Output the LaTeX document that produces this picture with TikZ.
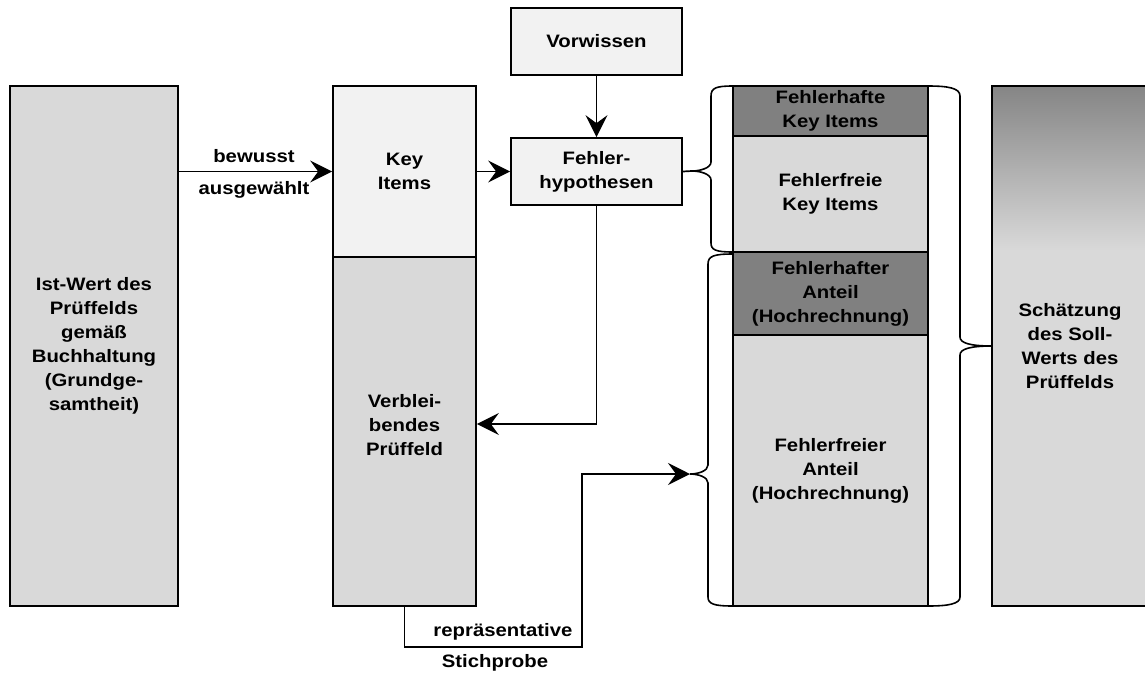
\documentclass[tikz,border=0pt]{standalone}
\usepackage{fontspec}
\setmainfont{Liberation Sans}[FakeStretch=1.13]
\usetikzlibrary{arrows.meta}
\definecolor{paleg}{HTML}{F2F2F2}
\definecolor{lightg}{HTML}{D9D9D9}
\definecolor{darkg}{HTML}{808080}
\definecolor{shadetop}{HTML}{858585}
\tikzset{
  box/.style={draw=black, line width=1.7pt, align=center, inner sep=0pt,
    font=\bfseries\fontsize{18}{24}\selectfont},
  lbl/.style={inner sep=0pt, font=\bfseries\fontsize{18}{24}\selectfont},
  conn/.style={line width=1.7pt},
  arr/.style={conn, -{Stealth[length=22pt,width=22pt,inset=8pt]}},
  brace/.style={line width=1.6pt},
}
\begin{document}
\begin{tikzpicture}[x=1pt,y=-1pt]
\useasboundingbox (0,0) rectangle (1145,675);
\clip (0,0) rectangle (1145,675);

% Ist-Wert column
\node[box, fill=lightg, minimum width=168pt, minimum height=520pt] (ist) at (94,346)
  {Ist-Wert des\\Prüffelds\\gemäß\\Buchhaltung\\(Grundge-\\samtheit)};

% split column: key items and remaining field
\node[box, fill=paleg, minimum width=143pt, minimum height=171pt] (key) at (404.5,171.5)
  {Key\\Items};
\node[box, fill=lightg, minimum width=143pt, minimum height=349pt] (verb) at (404.5,431.5)
  {Verblei-\\bendes\\Prüffeld\\[-10pt]};

% hypotheses
\node[box, fill=paleg, minimum width=171pt, minimum height=67pt] (vw) at (596.5,41.5)
  {Vorwissen};
\node[box, fill=paleg, minimum width=171pt, minimum height=67pt] (fh) at (596.5,171.5)
  {Fehler-\\hypothesen};

% result column
\node[box, fill=darkg, minimum width=195pt, minimum height=50pt] (fk1) at (830.5,111)
  {Fehlerhafte\\Key Items};
\node[box, fill=lightg, minimum width=195pt, minimum height=116pt] (fk2) at (830.5,194)
  {Fehlerfreie\\Key Items};
\node[box, fill=darkg, minimum width=195pt, minimum height=83pt] (fa1) at (830.5,293.5)
  {Fehlerhafter\\Anteil\\(Hochrechnung)};
\node[box, fill=lightg, minimum width=195pt, minimum height=271pt] (fa2) at (830.5,470.5)
  {Fehlerfreier\\Anteil\\(Hochrechnung)};

% estimate box with shaded top
\fill[lightg] (992,86) rectangle (1148,606);
\shade[top color=shadetop, bottom color=lightg] (992,86) rectangle (1148,250);
\node[box, minimum width=156pt, minimum height=520pt] (soll) at (1070,346)
  {Schätzung\\des Soll-\\Werts des\\Prüffelds};

% braces
\coordinate (b1) at (692,171);
\coordinate (b2) at (690,474);
\coordinate (b3) at (992,346);
\draw[brace] (733,86) .. controls (716,86) and (711,88) .. (711,96) -- (711,162)
  .. controls (711,168) and (700,171) .. (b1)
  .. controls (700,171) and (711,174) .. (711,180) -- (711,243)
  .. controls (711,250) and (716,252) .. (733,252);
\draw[brace] (733,254) .. controls (714,254) and (708,256) .. (708,264) -- (708,465)
  .. controls (708,471) and (698,474) .. (b2)
  .. controls (698,474) and (708,477) .. (708,483) -- (708,597)
  .. controls (708,604) and (714,606) .. (733,606);
\draw[brace] (928,86) .. controls (948,86) and (960,88) .. (960,96) -- (960,337)
  .. controls (960,343) and (970,346) .. (b3)
  .. controls (970,346) and (960,349) .. (960,355) -- (960,597)
  .. controls (960,604) and (948,606) .. (928,606);

% connectors
\draw[arr] (ist.east |- key.west) -- (key.west)
  node[lbl, pos=0.49, above=8pt] (sel1) {bewusst}
  node[lbl, pos=0.49, below=9pt] (sel2) {ausgewählt};
\draw[arr] (key.east) -- (fh.west);
\draw[arr] (vw.south) -- (fh.north);
\draw[arr] (fh.south) |- ([yshift=7.5pt]verb.east);
\draw[conn] (fh.east) -- (b1);
\coordinate (s1) at (582,647);
\draw[arr] (verb.south) |- (s1) |- (b2);
\node[lbl] (rep) at (503,632) {repräsentative};
\node[lbl] (stp) at (495,663) {Stichprobe};
\end{tikzpicture}
\end{document}
